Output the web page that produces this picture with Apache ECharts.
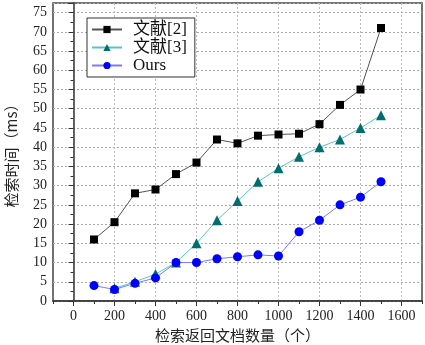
<!DOCTYPE html>
<html>
<head>
<meta charset="utf-8">
<script src="https://cdn.jsdelivr.net/npm/echarts@6/dist/echarts.min.js"></script>
<style>
html, body { margin: 0; padding: 0; background: #fff; }
#main { width: 425px; height: 345px; }
</style>
</head>
<body>
<div id="main"></div>
<script>
// 检索返回文档数量
var docCounts = [100, 200, 300, 400, 500, 600, 700, 800, 900, 1000, 1100, 1200, 1300, 1400, 1500];
var ref2Times = [16, 20.5, 28, 29, 33, 36, 42, 41, 43, 43.3, 43.5, 46, 51, 55, 71];
var ref3Counts = [200, 300, 400, 500, 600, 700, 800, 900, 1000, 1100, 1200, 1300, 1400, 1500];
var ref3Times = [3.3, 5, 7, 10, 15, 21, 26, 31, 34.5, 37.5, 40, 42, 45, 48.3];
var oursTimes = [4, 3, 4.6, 6, 10, 10, 11, 11.5, 12, 11.7, 18, 21, 25, 27, 31];
var xTicks = [0, 200, 400, 600, 800, 1000, 1200, 1400, 1600];

function pairs(xs, ys) {
    return xs.map(function (x, i) { return [x, ys[i]]; });
}

var numFont = 'Liberation Serif';
var cjkFont = '"Noto Sans CJK SC"';

var option = {
    backgroundColor: '#fff',
    animation: false,
    grid: {
        left: 53, right: 3, top: 3, bottom: 44,
        outerBoundsMode: 'none',
        show: true, borderColor: '#444', borderWidth: 1.5
    },
    legend: {
        orient: 'vertical',
        left: 87, top: 18,
        padding: [3, 8, 3, 4],
        itemGap: 1,
        itemWidth: 30,
        itemHeight: 9,
        borderColor: '#333',
        borderWidth: 1,
        borderRadius: 0,
        backgroundColor: '#fff',
        textStyle: { fontFamily: numFont + ',' + cjkFont, fontSize: 17, color: '#111', padding: [0, 0, 0, 6] },
        data: ['文献[2]', '文献[3]', 'Ours']
    },
    xAxis: [{
        type: 'value',
        min: -100, max: 1700, interval: 100,
        axisLine: { show: true, lineStyle: { color: '#333', width: 1.5 } },
        axisTick: { show: true, inside: false, length: 3, lineStyle: { color: '#333' } },
        axisLabel: { show: false },
        splitLine: { show: false }
    }, {
        type: 'value',
        min: -100, max: 1700, interval: 100,
        position: 'bottom',
        name: '检索返回文档数量（个）',
        nameLocation: 'middle',
        nameGap: 25,
        nameTextStyle: { fontFamily: cjkFont, fontSize: 15, color: '#222' },
        axisLine: { show: false },
        axisTick: { show: true, inside: false, length: 5, customValues: xTicks, lineStyle: { color: '#333' } },
        axisLabel: {
            show: true, customValues: xTicks, fontFamily: numFont, fontSize: 14, color: '#222', margin: 8,
            formatter: function (v) { return String(v); }
        },
        splitLine: { show: true, lineStyle: { color: '#bbb', type: [2, 2], width: 1 } }
    }],
    yAxis: {
        type: 'value',
        min: 0, max: 77.5, interval: 5,
        name: '检索时间（ms）',
        nameLocation: 'middle',
        nameGap: 34,
        nameRotate: 90,
        nameTextStyle: { fontFamily: cjkFont, fontSize: 15, color: '#222' },
        axisLine: { show: true, lineStyle: { color: '#333', width: 1.5 } },
        axisTick: { show: true, inside: false, length: 5, lineStyle: { color: '#333' } },
        minorTick: { show: true, splitNumber: 2, length: 3, lineStyle: { color: '#333' } },
        axisLabel: {
            fontFamily: numFont, fontSize: 14, color: '#222', margin: 6,
            formatter: function (v) { return v % 5 === 0 ? String(v) : ''; }
        },
        splitLine: { show: true, lineStyle: { color: '#aaa', type: [2, 2], width: 1 } }
    },
    series: [{
        name: '文献[2]',
        type: 'line',
        xAxisIndex: 0,
        data: pairs(docCounts, ref2Times),
        symbol: 'rect',
        symbolSize: 8,
        lineStyle: { color: '#555', width: 1 },
        itemStyle: { color: '#000' }
    }, {
        name: '文献[3]',
        type: 'line',
        xAxisIndex: 0,
        data: pairs(ref3Counts, ref3Times),
        symbol: 'triangle',
        symbolSize: 10,
        lineStyle: { color: '#5cc4c4', width: 1 },
        itemStyle: { color: '#006e6e' }
    }, {
        name: 'Ours',
        type: 'line',
        xAxisIndex: 0,
        data: pairs(docCounts, oursTimes),
        symbol: 'circle',
        symbolSize: 9,
        lineStyle: { color: '#7a7aff', width: 1 },
        itemStyle: { color: '#0000ff' }
    }]
};

var myChart = echarts.init(document.getElementById('main'));
myChart.setOption(option);
</script>
</body>
</html>
